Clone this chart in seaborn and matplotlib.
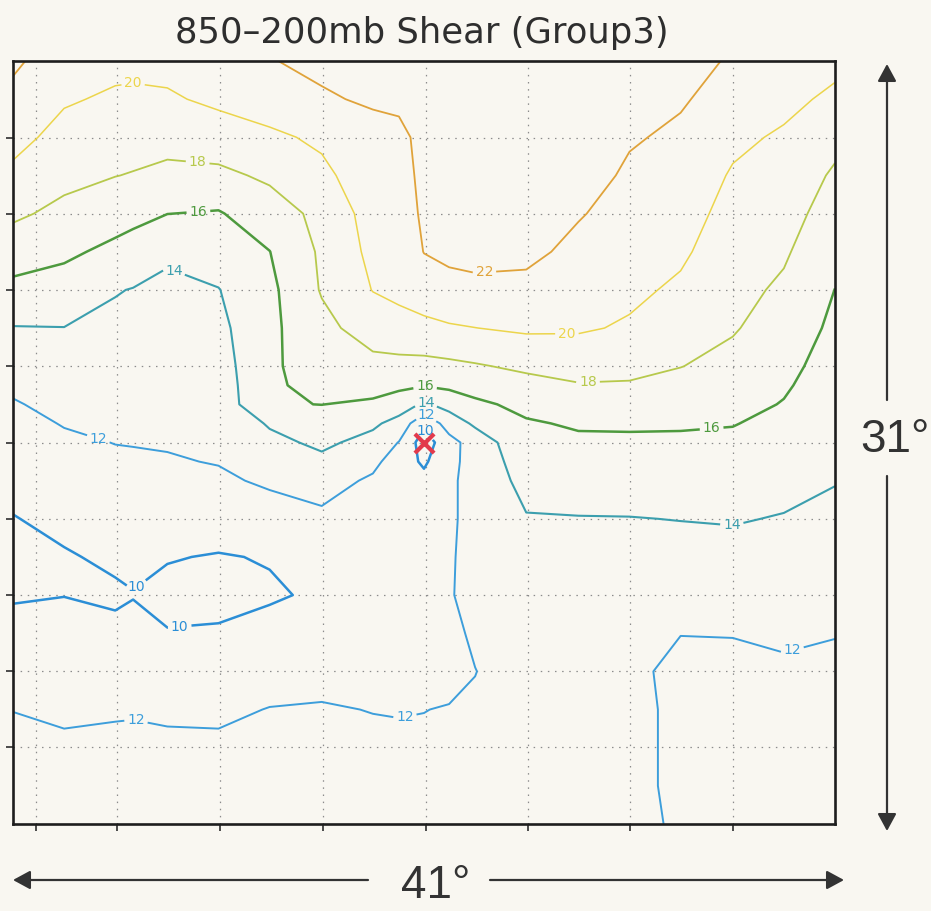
import numpy as np
import pandas as pd
import matplotlib
matplotlib.use("Agg")
import matplotlib.pyplot as plt
import seaborn as sns

# ---- storm-relative grid (degrees from the storm centre) ----
lon_offset = [-20.5, -17.95, -15.4, -14.51, -12.8, -10.25, -7.7, -5.1, -2.55, -1.25, 0.0,
              1.25, 2.55, 5.1, 7.7, 10.25, 12.8, 15.4, 17.95, 20.5]
lat_offset = [15.5, 13.95, 12.4, 10.85, 9.3, 7.75, 6.2, 4.65, 3.1, 2.325, 1.55,
              0.775, 0.0, -0.775, -1.55, -3.1, -4.65, -6.2, -7.75, -9.3, -10.85,
              -12.4, -13.95, -15.5]

# 850-200 mb vertical wind shear, one row per latitude offset (north -> south)
shear = [
    [22.35, 20.9, 20.5, 20.5, 20.6, 21.5, 21.9, 22.5, 23.0, 23.2, 23.8, 24.0, 24.0, 24.0, 24.0, 23.6, 23.0, 21.7, 21.0, 20.5],
    [21.47, 20.2, 19.73, 19.64, 19.75, 20.4, 20.87, 21.74, 22.3, 22.5, 23.6, 23.8, 23.9, 23.9, 23.8, 23.2, 22.2, 21.2, 20.5, 19.61],
    [20.6, 19.37, 18.89, 18.79, 18.69, 19.02, 19.68, 20.3, 21.2, 21.4, 22.7, 23.6, 23.7, 23.7, 23.4, 22.2, 21.64, 20.4, 19.75, 18.56],
    [19.6, 18.52, 18.04, 17.9, 17.51, 17.58, 18.32, 19.61, 21.0, 21.2, 22.5, 23.3, 23.4, 23.4, 22.9, 21.67, 21.19, 19.82, 19.25, 17.73],
    [18.33, 17.52, 16.8, 16.55, 16.02, 15.85, 17.1, 18.5, 20.85, 20.9, 22.35, 22.9, 23.0, 23.0, 22.15, 21.23, 20.74, 19.39, 18.74, 17.14],
    [16.96, 16.36, 15.54, 15.19, 14.3, 14.9, 15.97, 18.3, 20.5, 20.6, 22.05, 22.5, 22.6, 22.5, 21.46, 20.8, 20.29, 18.98, 18.24, 16.53],
    [15.49, 15.17, 14.1, 13.93, 13.6, 13.94, 15.55, 18.15, 20.06, 20.45, 20.9, 21.27, 21.52, 21.43, 20.84, 20.36, 19.71, 18.57, 17.69, 15.98],
    [13.92, 13.97, 13.58, 13.47, 13.34, 13.52, 15.55, 17.47, 18.88, 19.32, 19.57, 19.82, 19.98, 20.3, 20.21, 19.8, 18.88, 18.16, 17.1, 15.62],
    [12.85, 13.23, 13.07, 13.01, 12.94, 13.11, 15.75, 16.74, 17.45, 17.42, 17.4, 17.58, 17.83, 18.35, 18.78, 18.5, 18.04, 17.45, 16.51, 15.23],
    [12.31, 12.85, 12.81, 12.78, 12.74, 12.91, 15.8, 16.38, 16.64, 16.42, 16.13, 16.42, 16.8, 17.4, 17.87, 17.84, 17.45, 17.0, 16.22, 15.04],
    [11.86, 12.48, 12.56, 12.54, 12.54, 12.7, 15.9, 16.02, 15.72, 15.0, 13.71, 14.67, 15.61, 16.51, 17.06, 17.06, 16.84, 16.55, 15.91, 14.85],
    [11.52, 12.08, 12.29, 12.3, 12.33, 12.49, 14.2, 15.19, 14.34, 13.33, 10.4, 12.92, 14.32, 15.81, 16.21, 16.24, 16.19, 16.07, 15.56, 14.65],
    [11.19, 11.74, 12.03, 12.06, 12.13, 12.28, 13.5, 14.38, 13.36, 11.93, 9.0, 11.3, 12.9, 15.41, 15.68, 15.7, 15.71, 15.67, 15.22, 14.47],
    [10.86, 11.41, 11.75, 11.8, 11.87, 12.08, 12.92, 13.58, 12.5, 11.0, 9.7, 11.5, 12.7, 15.0, 15.24, 15.26, 15.3, 15.29, 14.88, 14.26],
    [10.53, 11.09, 11.46, 11.52, 11.51, 11.71, 12.27, 12.79, 11.7, 11.0, 10.5, 11.7, 12.6, 14.61, 14.8, 14.83, 14.88, 14.9, 14.55, 14.07],
    [9.93, 10.43, 10.87, 10.99, 10.8, 10.8, 11.17, 11.6, 11.2, 11.1, 11.2, 11.75, 12.5, 13.88, 13.93, 13.95, 14.04, 14.12, 13.9, 13.59],
    [9.7, 9.85, 10.29, 10.45, 10.09, 9.9, 10.1, 10.9, 11.0, 11.1, 11.3, 11.85, 12.45, 13.5, 13.4, 13.2, 13.37, 13.43, 13.37, 13.08],
    [9.85, 9.97, 9.75, 9.93, 9.6, 9.55, 9.8, 10.25, 11.0, 11.2, 11.4, 11.9, 12.4, 13.2, 13.1, 12.8, 12.7, 12.75, 12.84, 12.57],
    [10.51, 10.62, 10.37, 10.53, 10.07, 10.16, 10.58, 10.8, 11.2, 11.3, 11.5, 11.6, 12.25, 13.0, 12.9, 12.5, 12.03, 12.07, 12.31, 12.07],
    [11.24, 11.18, 11.1, 11.2, 10.9, 10.92, 11.31, 11.4, 11.5, 11.55, 11.7, 11.4, 11.97, 12.8, 12.7, 12.35, 11.6, 11.5, 11.7, 11.6],
    [11.98, 11.75, 11.86, 11.89, 11.76, 11.7, 12.05, 12.15, 11.95, 11.9, 11.97, 12.1, 12.2, 12.7, 12.6, 12.25, 11.8, 11.3, 11.4, 11.3],
    [12.3, 12.25, 12.3, 12.3, 12.3, 12.3, 12.4, 12.45, 12.4, 12.35, 12.3, 12.35, 12.4, 12.6, 12.5, 12.25, 11.8, 11.2, 11.2, 11.1],
    [12.5, 12.5, 12.5, 12.5, 12.5, 12.5, 12.55, 12.55, 12.55, 12.5, 12.45, 12.5, 12.5, 12.6, 12.45, 12.25, 11.8, 11.2, 11.1, 11.0],
    [12.6, 12.6, 12.6, 12.6, 12.6, 12.6, 12.65, 12.65, 12.65, 12.6, 12.55, 12.55, 12.55, 12.6, 12.4, 12.2, 11.9, 11.3, 11.1, 11.0],
]

levels = [10, 12, 14, 16, 18, 20, 22]
level_colors = ["#2b8ed6", "#3d9edb", "#3c9fae", "#4e9a3e", "#b7c94c", "#ecd54c", "#e0a33a"]
level_widths = [1.8, 1.4, 1.5, 1.8, 1.3, 1.1, 1.3]

# where each contour carries its value label (lon, lat)
label_spots = [
    (-14.51, 14.61), (3.04, 6.60), (7.13, 4.04),
    (-11.27, 11.56), (8.18, 2.42),
    (-11.27, 9.57), (0.05, 2.26), (14.36, 0.43),
    (-12.32, 7.33), (0.1, 1.65), (15.36, -3.35),
    (-16.31, -0.02), (0.1, 1.1), (-14.32, -11.11), (-0.95, -11.15), (18.5, -8.84),
    (-14.2, -6.05), (-12.17, -7.62), (0.1, 0.5),
]

storm_centre = pd.DataFrame({"lon": [0.0], "lat": [0.0]})

x_grid = [-19.35, -15.31, -10.18, -5.04, 0.1, 5.19, 10.27, 15.41]
y_grid = [12.37, 9.28, 6.18, 3.09, 0.0, -3.09, -6.18, -9.28, -12.37]

# ---- figure ----
sns.set_theme(style="white")
plt.rcParams["font.family"] = ["DejaVu Sans"]
paper = "#f9f7f1"
ink = "#2e2e2e"

fig = plt.figure(figsize=(9.31, 9.11), dpi=100, facecolor=paper)
ax = fig.add_axes([13 / 931, 87 / 911, 822 / 931, 763 / 911])
ax.set_facecolor(paper)

field = pd.DataFrame(shear, index=lat_offset, columns=lon_offset).sort_index()
cs = ax.contour(field.columns.values, field.index.values, field.values,
                levels=levels, colors=level_colors, linewidths=level_widths)
labels = ax.clabel(cs, levels, manual=label_spots, inline=True,
                   inline_spacing=3, fontsize=10, fmt="%d")
for t in labels:
    t.set_rotation(0)

sns.scatterplot(data=storm_centre, x="lon", y="lat", marker="x", s=190,
                color="#e23a4c", linewidth=3.0, ax=ax, zorder=5, legend=False)

ax.set_xlim(-20.5, 20.5)
ax.set_ylim(-15.5, 15.5)
ax.set_xticks(x_grid)
ax.set_yticks(y_grid)
ax.set_xlabel("")
ax.set_ylabel("")
ax.grid(True, linestyle=(0, (1.2, 4.5)), color="#8c8c8c", linewidth=0.9)
ax.tick_params(axis="both", direction="out", length=5, width=1.2, colors=ink,
               bottom=True, left=True, top=False, right=False,
               labelbottom=False, labelleft=False)
for sp in ax.spines.values():
    sp.set_visible(True)
    sp.set_color("#1e1e1e")
    sp.set_linewidth(1.9)

fig.text(422 / 931, 1 - 33 / 911, "850\u2013200mb Shear (Group3)",
         ha="center", va="center", fontsize=25.5, color=ink)

# ---- domain size arrows ----
ov = fig.add_axes([0, 0, 1, 1], facecolor="none")
ov.set_xlim(0, 931)
ov.set_ylim(911, 0)
ov.axis("off")
arrow = dict(arrowstyle="-|>,head_length=0.7,head_width=0.38", color="#333333",
             lw=1.6, shrinkA=0, shrinkB=0, mutation_scale=15)
ov.annotate("", xy=(13, 880), xytext=(368, 880), arrowprops=arrow)
ov.annotate("", xy=(844, 880), xytext=(490, 880), arrowprops=arrow)
ov.annotate("", xy=(887, 64), xytext=(887, 400), arrowprops=arrow)
ov.annotate("", xy=(887, 831), xytext=(887, 476), arrowprops=arrow)
ov.text(436, 886, "41\u00b0", ha="center", va="center", fontsize=33,
        color="#333333", family=["Liberation Sans", "DejaVu Sans"])
ov.text(895, 440, "31\u00b0", ha="center", va="center", fontsize=33,
        color="#333333", family=["Liberation Sans", "DejaVu Sans"])

fig.savefig("out.png", dpi=100, facecolor=paper)
